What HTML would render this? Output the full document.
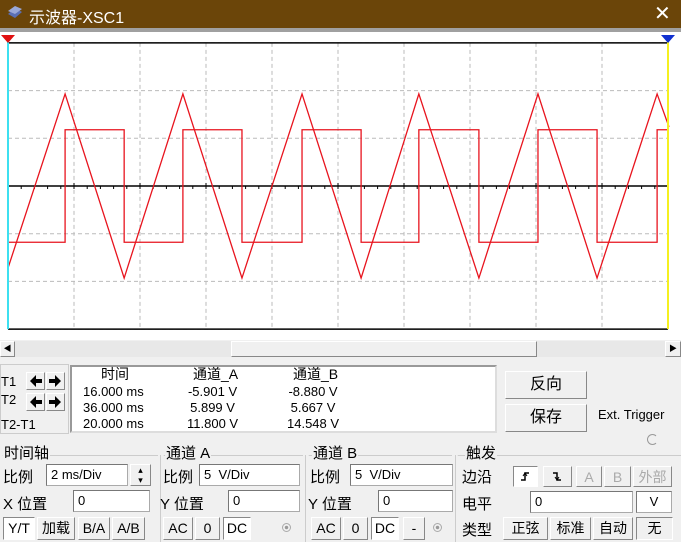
<!DOCTYPE html>
<html><head><meta charset="utf-8">
<style>
*{box-sizing:border-box}
body{margin:0;width:681px;height:542px;overflow:hidden;background:#f0f0f0;font-family:"Liberation Sans","Noto Sans CJK SC",sans-serif;position:relative}
.a{position:absolute}
.t{font-size:14px;color:#000;white-space:nowrap}
.in{position:absolute;background:#fff;border:1px solid #aaa;border-top-color:#777;border-left-color:#777;font-size:13px;padding:1px 4px;line-height:18px}
.btn{position:absolute;background:#f0f0f0;border:1px solid #fff;border-right-color:#888;border-bottom-color:#888;font-size:14px;text-align:center;line-height:20px}
.dis{color:#aaa}
.grp{position:absolute;border-top:1px solid #ccc;border-left:1px solid #fff;height:1px}
.lg{position:absolute;background:#f0f0f0;font-size:15px;padding:0 1px;line-height:16px}
</style></head><body>
<div class="a" style="left:0;top:0;width:681px;height:28px;background:#6b4509"></div>
<svg class="a" style="left:6px;top:5px" width="18" height="16"><polygon points="2,9 9,3 16,7 9,13" fill="#5a6fb5"/><polygon points="2,6 9,1 16,4 9,9" fill="#9aa8d8"/></svg>
<div class="a" style="left:29px;top:4px;color:#fff;font-size:16px">示波器-XSC1</div>
<div class="a" style="left:654px;top:1px;color:#fff;font-size:20px">✕</div>
<div class="a" style="left:0;top:28px;width:681px;height:4px;background:#a0a0a0"></div>
<svg class="a" id="scope" style="left:0;top:32px" width="681" height="308"></svg>
<div class="a" style="left:0;top:341px;width:681px;height:16px;background:#e8e8e8"></div>
<div class="btn" style="left:0;top:341px;width:15px;height:16px;font-size:8px;line-height:14px">◀</div>
<div class="btn" style="left:231px;top:341px;width:306px;height:16px"></div>
<div class="btn" style="left:665px;top:341px;width:16px;height:16px;font-size:8px;line-height:14px">▶</div>
<div class="a" style="left:0;top:364px;width:69px;height:70px;border:1px solid #ccc"></div>
<div class="a t" style="left:1px;top:374px;font-size:13px">T1</div>
<div class="a t" style="left:1px;top:392px;font-size:13px">T2</div>
<div class="a t" style="left:1px;top:417px;font-size:13px">T2-T1</div>
<div class="btn" style="left:26px;top:372px;width:19px;height:18px"><svg width="17" height="16"><polygon points="3,8 9,2 9,6 15,6 15,10 9,10 9,14" fill="#000"/></svg></div>
<div class="btn" style="left:46px;top:372px;width:19px;height:18px"><svg width="17" height="16"><polygon points="14,8 8,2 8,6 2,6 2,10 8,10 8,14" fill="#000"/></svg></div>
<div class="btn" style="left:26px;top:393px;width:19px;height:18px"><svg width="17" height="16"><polygon points="3,8 9,2 9,6 15,6 15,10 9,10 9,14" fill="#000"/></svg></div>
<div class="btn" style="left:46px;top:393px;width:19px;height:18px"><svg width="17" height="16"><polygon points="14,8 8,2 8,6 2,6 2,10 8,10 8,14" fill="#000"/></svg></div>
<div class="a" style="left:70px;top:365px;width:427px;height:68px;background:#fff;border:2px solid #999;border-right-color:#ddd;border-bottom-color:#ddd"></div>
<div class="a t" style="left:101px;top:366px;font-size:14px;line-height:16px">时间</div>
<div class="a t" style="left:193px;top:366px;font-size:14px;line-height:16px">通道_A</div>
<div class="a t" style="left:293px;top:366px;font-size:14px;line-height:16px">通道_B</div>
<div class="a t" style="left:83px;top:384px;font-size:13px;line-height:16px">16.000 ms<br>36.000 ms<br>20.000 ms</div>
<div class="a t" style="left:187px;top:384px;font-size:13px;line-height:16px;text-align:center">-5.901 V<br>5.899 V<br>11.800 V</div>
<div class="a t" style="left:287px;top:384px;font-size:13px;line-height:16px;text-align:center">-8.880 V<br>5.667 V<br>14.548 V</div>
<div class="btn" style="left:505px;top:371px;width:82px;height:28px;line-height:26px;font-size:16px">反向</div>
<div class="btn" style="left:505px;top:404px;width:82px;height:28px;line-height:26px;font-size:16px">保存</div>
<div class="a t" style="left:598px;top:407px;font-size:13px">Ext. Trigger</div>
<div class="a" style="left:647px;top:434px;width:11px;height:11px;border-radius:50%;border:1px solid #999;border-right-color:#f0f0f0"></div>
<div class="grp" style="left:2px;top:455px;width:156px"></div>
<div class="grp" style="left:163px;top:455px;width:140px"></div>
<div class="grp" style="left:308px;top:455px;width:144px"></div>
<div class="grp" style="left:457px;top:455px;width:224px"></div>
<div class="a" style="left:160px;top:455px;width:1px;height:87px;background:#ccc"></div>
<div class="a" style="left:305px;top:455px;width:1px;height:87px;background:#ccc"></div>
<div class="a" style="left:455px;top:455px;width:1px;height:87px;background:#ccc"></div>
<div class="lg" style="left:3px;top:446px">时间轴</div>
<div class="lg" style="left:165px;top:446px">通道 A</div>
<div class="lg" style="left:312px;top:446px">通道 B</div>
<div class="lg" style="left:465px;top:446px">触发</div>
<div class="a t" style="left:3px;top:466px;font-size:15px">比例</div>
<div class="in" style="left:46px;top:464px;width:82px;height:22px">2 ms/Div</div>
<div class="btn" style="left:130px;top:464px;width:21px;height:22px;font-size:9px;line-height:10px">▴<br>▾</div>
<div class="a t" style="left:3px;top:493px;font-size:15px">X 位置</div>
<div class="in" style="left:73px;top:490px;width:77px;height:22px">0</div>
<div class="btn" style="left:3px;top:517px;width:32px;height:23px;border-color:#888 #fff #fff #888;background:#fff">Y/T</div>
<div class="btn" style="left:37px;top:517px;width:38px;height:23px">加载</div>
<div class="btn" style="left:78px;top:517px;width:32px;height:23px">B/A</div>
<div class="btn" style="left:112px;top:517px;width:33px;height:23px">A/B</div>
<div class="a t" style="left:163px;top:466px;font-size:15px">比例</div>
<div class="in" style="left:199px;top:464px;width:101px;height:22px">5&nbsp; V/Div</div>
<div class="a t" style="left:160px;top:493px;font-size:15px">Y 位置</div>
<div class="in" style="left:228px;top:490px;width:72px;height:22px">0</div>
<div class="btn" style="left:163px;top:517px;width:30px;height:23px">AC</div>
<div class="btn" style="left:195px;top:517px;width:25px;height:23px">0</div>
<div class="btn" style="left:223px;top:517px;width:28px;height:23px;border-color:#888 #fff #fff #888;background:#fff">DC</div>
<div class="a" style="left:282px;top:523px;width:9px;height:9px;border-radius:50%;border:1px solid #aaa;background:radial-gradient(#999 30%,#f0f0f0 40%)"></div>
<div class="a t" style="left:310px;top:466px;font-size:15px">比例</div>
<div class="in" style="left:350px;top:464px;width:103px;height:22px">5&nbsp; V/Div</div>
<div class="a t" style="left:308px;top:493px;font-size:15px">Y 位置</div>
<div class="in" style="left:378px;top:490px;width:75px;height:22px">0</div>
<div class="btn" style="left:311px;top:517px;width:30px;height:23px">AC</div>
<div class="btn" style="left:343px;top:517px;width:25px;height:23px">0</div>
<div class="btn" style="left:371px;top:517px;width:28px;height:23px;border-color:#888 #fff #fff #888;background:#fff">DC</div>
<div class="btn" style="left:403px;top:517px;width:22px;height:23px">-</div>
<div class="a" style="left:433px;top:523px;width:9px;height:9px;border-radius:50%;border:1px solid #aaa;background:radial-gradient(#999 30%,#f0f0f0 40%)"></div>
<div class="a t" style="left:462px;top:466px;font-size:15px">边沿</div>
<div class="btn" style="left:513px;top:466px;width:25px;height:21px;border-color:#888 #fff #fff #888;background:#fff"><svg width="23" height="19"><polyline points="7,13 11,13 11,6 15,6" fill="none" stroke="#000" stroke-width="1.5"/><polyline points="9,9 11,6 13,9" fill="none" stroke="#000"/></svg></div>
<div class="btn" style="left:543px;top:466px;width:29px;height:21px"><svg width="27" height="19"><polyline points="9,6 13,6 13,13 17,13" fill="none" stroke="#000" stroke-width="1.5"/><polyline points="11,10 13,13 15,10" fill="none" stroke="#000"/></svg></div>
<div class="btn dis" style="left:576px;top:466px;width:26px;height:21px">A</div>
<div class="btn dis" style="left:604px;top:466px;width:27px;height:21px">B</div>
<div class="btn dis" style="left:633px;top:466px;width:39px;height:21px">外部</div>
<div class="a t" style="left:462px;top:493px;font-size:15px">电平</div>
<div class="in" style="left:530px;top:491px;width:103px;height:22px">0</div>
<div class="in" style="left:636px;top:491px;width:36px;height:22px;text-align:center">V</div>
<div class="a t" style="left:462px;top:519px;font-size:15px">类型</div>
<div class="btn" style="left:503px;top:517px;width:45px;height:23px">正弦</div>
<div class="btn" style="left:550px;top:517px;width:41px;height:23px">标准</div>
<div class="btn" style="left:593px;top:517px;width:40px;height:23px">自动</div>
<div class="btn" style="left:636px;top:517px;width:37px;height:23px;border-color:#888 #fff #fff #888">无</div>
<script>
// Channel A (square wave) transitions: times in ms, values in V
const squareTimes = [0, 1.73, 1.73, 3.52, 3.52, 5.30, 5.30, 7.09, 7.09, 8.91, 8.91, 10.70, 10.70, 12.45, 12.45, 14.27, 14.27, 16.06, 16.06, 17.85, 17.85, 19.67, 19.67, 20.03];
const squareValues = [-5.9, -5.9, 5.9, 5.9, -5.9, -5.9, 5.9, 5.9, -5.9, -5.9, 5.9, 5.9, -5.9, -5.9, 5.9, 5.9, -5.9, -5.9, 5.9, 5.9, -5.9, -5.9, 5.9, 5.9];
// Channel B (triangle wave) vertices
const triTimes = [0, 1.73, 3.52, 5.30, 7.09, 8.91, 10.70, 12.45, 14.27, 16.06, 17.85, 19.67, 20.03];
const triValues = [-8.6, 9.65, -9.65, 9.65, -9.65, 9.65, -9.65, 9.65, -9.65, 9.65, -9.65, 9.65, 6.2];
const xTicksMs = [0, 2, 4, 6, 8, 10, 12, 14, 16, 18, 20];
const yDivsV = [-15, -10, -5, 0, 5, 10, 15];

const NS = 'http://www.w3.org/2000/svg';
const svg = document.getElementById('scope');
const X0 = 8, PXMS = 33, Y0 = 154, PXV = 47.7 / 5;
const xs = t => X0 + t * PXMS;
const ys = v => Y0 - v * PXV;
function mk(tag, attrs) { const e = document.createElementNS(NS, tag); for (const k in attrs) e.setAttribute(k, attrs[k]); svg.appendChild(e); return e; }
mk('rect', {x: 0, y: 0, width: 681, height: 308, fill: '#fff'});
for (const t of xTicksMs) {
  const l = mk('line', {x1: xs(t), x2: xs(t), y1: ys(15), y2: ys(-15), stroke: '#bbb', 'stroke-dasharray': '4,3'});
  
  
}
for (const v of yDivsV) {
  const l = mk('line', {x1: xs(0), x2: xs(20), y1: ys(v), y2: ys(v), stroke: '#bbb', 'stroke-dasharray': '4,3'});
  
  
}
mk('line', {x1: xs(0), x2: xs(20), y1: ys(15), y2: ys(15), stroke: '#000', 'stroke-width': 1.5});
mk('line', {x1: xs(0), x2: xs(20), y1: ys(-15), y2: ys(-15), stroke: '#000', 'stroke-width': 1.5});
mk('line', {x1: xs(0), x2: xs(20), y1: ys(0), y2: ys(0), stroke: '#000', 'stroke-width': 1.5});
for (let i = 0; i <= 50; i++) {
  const t = i * 0.4;
  mk('line', {x1: xs(t), x2: xs(t), y1: ys(0) - (i % 5 === 0 ? 3 : 0), y2: ys(0) + 3, stroke: '#000'});
}
const sq = mk('polyline', {points: squareTimes.map((t, i) => xs(t) + ',' + ys(squareValues[i])).join(' '), fill: 'none', stroke: '#e8141e', 'stroke-width': 1.3});


const tr = mk('polyline', {points: triTimes.map((t, i) => xs(t) + ',' + ys(triValues[i])).join(' '), fill: 'none', stroke: '#e8141e', 'stroke-width': 1.3});


const c1 = mk('line', {x1: xs(0), x2: xs(0), y1: 4, y2: ys(-15), stroke: '#3de0f0', 'stroke-width': 2});


const c2 = mk('line', {x1: xs(20), x2: xs(20), y1: 4, y2: ys(-15), stroke: '#f5f020', 'stroke-width': 2});


mk('polygon', {points: `${xs(0)-7},3 ${xs(0)+7},3 ${xs(0)},11`, fill: '#e01010'});
mk('polygon', {points: `${xs(20)-7},3 ${xs(20)+7},3 ${xs(20)},11`, fill: '#1030d0'});
</script>
</body></html>
